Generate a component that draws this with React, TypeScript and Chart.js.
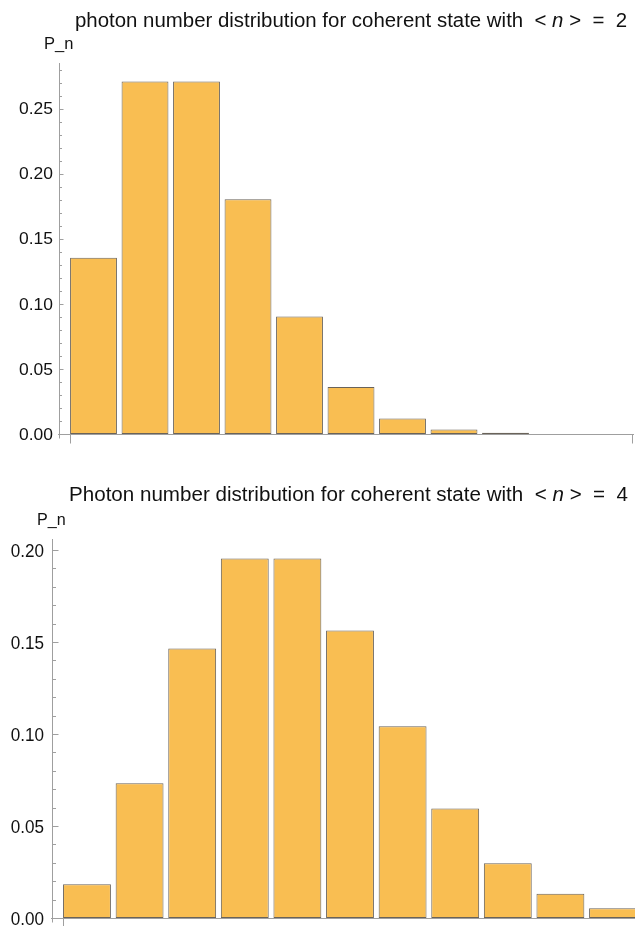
import React, { useEffect, useRef } from "react";
import { Chart, registerables } from "chart.js";

Chart.register(...registerables);

// ---------- data ----------
const nTop = [0, 1, 2, 3, 4, 5, 6, 7, 8];
const pTop = [0.1353, 0.2707, 0.2707, 0.1804, 0.0902, 0.0361, 0.012, 0.0034, 0.0009];

const nBottom = [0, 1, 2, 3, 4, 5, 6, 7, 8, 9, 10];
const pBottom = [0.0183, 0.0733, 0.1465, 0.1954, 0.1954, 0.1563, 0.1042, 0.0595, 0.0298, 0.0132, 0.0053];

const yTicksTop = [0, 0.05, 0.1, 0.15, 0.2, 0.25];
const yLabelsTop = ["0.00", "0.05", "0.10", "0.15", "0.20", "0.25"];
const yMinorTop = [0.01, 0.02, 0.03, 0.04, 0.06, 0.07, 0.08, 0.09, 0.11, 0.12, 0.13, 0.14, 0.16, 0.17, 0.18, 0.19, 0.21, 0.22, 0.23, 0.24, 0.26, 0.27, 0.28];

const yTicksBottom = [0, 0.05, 0.1, 0.15, 0.2];
const yLabelsBottom = ["0.00", "0.05", "0.10", "0.15", "0.20"];
const yMinorBottom = [0.01, 0.02, 0.03, 0.04, 0.06, 0.07, 0.08, 0.09, 0.11, 0.12, 0.13, 0.14, 0.16, 0.17, 0.18, 0.19];

const xTickMarks = [-0.455, 10.455];

const titleTopMain = "photon number distribution for coherent state with";
const titleBottomMain = "Photon number distribution for coherent state with";
const meanTop = "2";
const meanBottom = "4";
const yAxisLabel = "P_n";

// ---------- styles ----------
const FONT = '"Liberation Sans", Arial, Helvetica, sans-serif';
const BAR_FILL = "#F9BE52";
const BAR_EDGE = "rgba(80,72,60,0.85)";
const AXIS = "#9f9f9f";
const TEXT = "#111";
const W = 635;
const H = 463;

type Spec = {
  n: number[];
  p: number[];
  xMin: number;
  xMax: number;
  yMax: number;
  pad: { left: number; right: number; top: number; bottom: number };
  yTicks: number[];
  yLabels: string[];
  yMinor: number[];
  tickSize: number;
  tickSx: number;
  tickSy: number;
  labelGap: number;
  majorLen: number;
  minorLen: number;
  xTickLen: number;
  titleMain: string;
  mean: string;
  titleX: number;
  titleBase: number;
  titleW: number;
  titleSize: number;
  titleSy: number;
  pnX: number;
  pnBase: number;
  pnSize: number;
  pnSx: number;
};

function drawText(
  ctx: CanvasRenderingContext2D,
  text: string,
  x: number,
  y: number,
  size: number,
  sx: number,
  sy: number,
  align: "left" | "right",
  italic = false
) {
  ctx.save();
  ctx.font = `${italic ? "italic " : ""}${size}px ${FONT}`;
  ctx.fillStyle = TEXT;
  ctx.textBaseline = "alphabetic";
  ctx.textAlign = "left";
  const w = ctx.measureText(text).width * sx;
  const x0 = align === "right" ? x - w : x;
  ctx.translate(x0, y);
  ctx.scale(sx, sy);
  ctx.fillText(text, 0, 0);
  ctx.restore();
  return w;
}

function makeOverlay(spec: Spec) {
  return {
    id: "mmaOverlay",
    afterDraw(chart: any) {
      const ctx: CanvasRenderingContext2D = chart.ctx;
      const xs = chart.scales.x;
      const ys = chart.scales.y;
      const ax = Math.round(xs.getPixelForValue(spec.xMin)) + 0.5;
      const y0 = Math.round(ys.getPixelForValue(0)) + 0.5;
      const yTop = ys.getPixelForValue(spec.yMax);
      const xRight = xs.getPixelForValue(spec.xMax);

      ctx.save();
      ctx.strokeStyle = AXIS;
      ctx.lineWidth = 1;
      // axes
      ctx.beginPath();
      ctx.moveTo(ax, yTop);
      ctx.lineTo(ax, y0 + 4);
      ctx.moveTo(ax - 1.5, y0);
      ctx.lineTo(xRight, y0);
      ctx.stroke();
      // y major / minor ticks (inward)
      ctx.beginPath();
      spec.yTicks.forEach((v) => {
        const py = Math.round(ys.getPixelForValue(v)) + 0.5;
        if (v === 0) return;
        ctx.moveTo(ax, py);
        ctx.lineTo(ax + spec.majorLen, py);
      });
      spec.yMinor.forEach((v) => {
        const py = Math.round(ys.getPixelForValue(v)) + 0.5;
        ctx.moveTo(ax, py);
        ctx.lineTo(ax + spec.minorLen, py);
      });
      // x tick marks (downward)
      xTickMarks.forEach((v) => {
        const px = Math.round(xs.getPixelForValue(v)) + 0.5;
        ctx.moveTo(px, y0);
        ctx.lineTo(px, y0 + spec.xTickLen);
      });
      ctx.stroke();
      ctx.restore();

      // y tick labels
      spec.yTicks.forEach((v, i) => {
        const py = ys.getPixelForValue(v);
        drawText(
          ctx,
          spec.yLabels[i],
          ax - 0.5 - spec.labelGap,
          py + 0.358 * spec.tickSize * spec.tickSy,
          spec.tickSize,
          spec.tickSx,
          spec.tickSy,
          "right"
        );
      });

      // y axis label
      drawText(ctx, yAxisLabel, spec.pnX, spec.pnBase, spec.pnSize, spec.pnSx, 1, "left");

      // title with italic n
      const segs: { t: string; it: boolean }[] = [
        { t: spec.titleMain + "  < ", it: false },
        { t: "n", it: true },
        { t: " >  =  " + spec.mean, it: false },
      ];
      ctx.save();
      let raw = 0;
      segs.forEach((s) => {
        ctx.font = `${s.it ? "italic " : ""}${spec.titleSize}px ${FONT}`;
        raw += ctx.measureText(s.t).width;
      });
      ctx.restore();
      const sx = spec.titleW / raw;
      let cx = spec.titleX;
      segs.forEach((s) => {
        cx += drawText(ctx, s.t, cx, spec.titleBase, spec.titleSize, sx, spec.titleSy, "left", s.it);
      });
    },
  };
}

function BarPanel({ spec, top }: { spec: Spec; top: number }) {
  const ref = useRef<HTMLCanvasElement | null>(null);
  useEffect(() => {
    if (!ref.current) return;
    const chart = new Chart(ref.current, {
      type: "bar",
      data: {
        datasets: [
          {
            data: spec.n.map((v, i) => ({ x: v, y: spec.p[i] })),
            backgroundColor: BAR_FILL,
            borderColor: BAR_EDGE,
            borderWidth: 1,
            borderSkipped: false,
            barPercentage: 0.91,
            categoryPercentage: 1,
          },
        ],
      },
      options: {
        responsive: false,
        animation: false,
        devicePixelRatio: 1,
        layout: { padding: spec.pad },
        plugins: {
          legend: { display: false },
          tooltip: { enabled: false },
          title: { display: false },
        },
        scales: {
          x: {
            type: "linear",
            min: spec.xMin,
            max: spec.xMax,
            offset: false,
            display: false,
            afterBuildTicks: (s: any) => {
              s.ticks = spec.n.map((v) => ({ value: v }));
            },
          },
          y: {
            type: "linear",
            min: 0,
            max: spec.yMax,
            display: false,
          },
        },
      } as any,
      plugins: [makeOverlay(spec)],
    });
    return () => chart.destroy();
  }, [spec]);
  return (
    <canvas
      ref={ref}
      width={W}
      height={H}
      style={{ position: "absolute", left: 0, top, width: W, height: H, display: "block" }}
    />
  );
}

const specTop: Spec = {
  n: nTop,
  p: pTop,
  xMin: -0.67,
  xMax: 10.495,
  yMax: 0.285,
  pad: { left: 59, right: 1, top: 63, bottom: H - 434 },
  yTicks: yTicksTop,
  yLabels: yLabelsTop,
  yMinor: yMinorTop,
  tickSize: 16,
  tickSx: 1.09,
  tickSy: 1,
  labelGap: 6,
  majorLen: 4,
  minorLen: 2.5,
  xTickLen: 9,
  titleMain: titleTopMain,
  mean: meanTop,
  titleX: 75,
  titleBase: 27,
  titleW: 552,
  titleSize: 19.5,
  titleSy: 1,
  pnX: 44,
  pnBase: 49,
  pnSize: 16.5,
  pnSx: 1.0,
};

const specBottom: Spec = {
  n: nBottom,
  p: pBottom,
  xMin: -0.665,
  xMax: 10.418,
  yMax: 0.206,
  pad: { left: 52, right: 0, top: 539 - H, bottom: H - (918 - H) },
  yTicks: yTicksBottom,
  yLabels: yLabelsBottom,
  yMinor: yMinorBottom,
  tickSize: 18,
  tickSx: 0.95,
  tickSy: 1.03,
  labelGap: 8,
  majorLen: 6,
  minorLen: 3.5,
  xTickLen: 10,
  titleMain: titleBottomMain,
  mean: meanBottom,
  titleX: 69,
  titleBase: 501 - H,
  titleW: 559,
  titleSize: 20,
  titleSy: 1.05,
  pnX: 37,
  pnBase: 525 - H,
  pnSize: 17,
  pnSx: 0.95,
};

export default function App() {
  return (
    <div style={{ position: "absolute", left: 0, top: 0, width: W, height: 926, background: "#fff", overflow: "hidden" }}>
      <BarPanel spec={specTop} top={0} />
      <BarPanel spec={specBottom} top={H} />
    </div>
  );
}
